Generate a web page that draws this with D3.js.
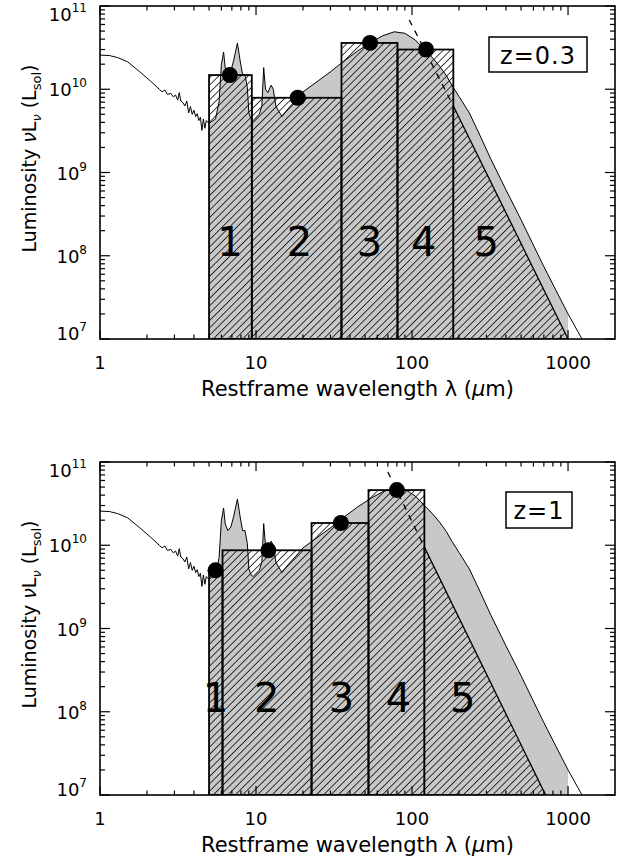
<!DOCTYPE html>
<html><head><meta charset="utf-8">
<script src="https://cdn.jsdelivr.net/npm/d3@7"></script>
<style>body{margin:0;background:#fff}</style>
</head><body>
<svg id="chart" width="626" height="860"></svg>
<script>
// ---------- DATA ----------
// Rest-frame SED template (wavelength in micron, nuL_nu in L_sol)
const sedWavelength = [1.0,1.15,1.3,1.5,1.8,2.1,2.4,2.5,2.6,2.7,2.85,2.95,3.05,3.15,3.22,3.3,3.4,3.5,3.6,3.7,3.8,3.9,4.0,4.1,4.2,4.3,4.4,4.5,4.6,4.7,4.8,5.0,5.2,5.5,5.8,6.0,6.2,6.35,6.6,6.9,7.2,7.6,7.9,8.2,8.5,8.8,9.0,9.3,9.6,10.0,10.5,10.9,11.2,11.5,11.9,12.5,12.9,13.4,14.0,14.7,16,18,20,25,30,35,45,55,65,77,90,105,120,135,150,166,181,200,233,270,320,400,500,700,1000,1300];
const sedLuminosity = [2.57e10,2.54e10,2.4e10,2.14e10,1.62e10,1.26e10,1.0e10,9.3e9,9.8e9,8.7e9,8.9e9,8.1e9,8.5e9,7.4e9,9.1e9,7.2e9,6.9e9,6.3e9,7.2e9,5.2e9,6.2e9,5.0e9,5.6e9,4.7e9,5.1e9,4.2e9,4.6e9,3.2e9,4.4e9,3.4e9,4.2e9,3.9e9,4.1e9,4.4e9,7.1e9,2.0e10,2.8e10,1.8e10,1.5e10,1.66e10,2.24e10,3.6e10,2.24e10,1.5e10,1.5e10,1.05e10,5.2e9,4.4e9,4.2e9,4.6e9,5.0e9,6.3e9,1.82e10,1.0e10,9.1e9,1.12e10,1.0e10,6.3e9,5.4e9,4.7e9,5.8e9,7.4e9,9.3e9,1.26e10,1.62e10,2.04e10,2.9e10,3.7e10,4.4e10,4.9e10,4.7e10,3.9e10,3.0e10,2.4e10,1.9e10,1.46e10,1.1e10,8.2e9,5.2e9,2.9e9,1.45e9,6.2e8,2.7e8,7.4e7,2.0e7,8.3e6];
const sedFillRange = [5, 1000];

const xTickValues = [1, 10, 100, 1000];
const xTickLabels = ["1", "10", "100", "1000"];
const yTickExponents = [7, 8, 9, 10, 11];
const bandNames = ["1", "2", "3", "4", "5"];

// Panel z=0.3
const zTopLabel = "z=0.3";
const zTopBandEdges = [5, 9.4, 35.3, 80.7, 184];
const zTopBandTops = [1.48e10, 7.9e9, 3.6e10, 3.0e10];
const zTopBand5 = [[184, 6.3e9], [1000, 1e7]];
const zTopDashed = [[96, 6.8e10], [184, 6.3e9]];
const zTopPointsX = [6.8, 18.5, 53.8, 123];
const zTopPointsY = [1.48e10, 7.9e9, 3.6e10, 3.0e10];
const zTopNameX = [6.8, 19, 53.4, 118.7, 299];

// Panel z=1
const zBotLabel = "z=1";
const zBotBandEdges = [5, 6.1, 22.7, 52.6, 120];
const zBotBandTops = [5.0e9, 8.7e9, 1.85e10, 4.6e10];
const zBotBand5 = [[120, 9.5e9], [718, 1e7]];
const zBotDashed = [[70, 7.6e10], [120, 9.5e9]];
const zBotPointsX = [5.5, 12, 35, 80];
const zBotPointsY = [5.0e9, 8.7e9, 1.85e10, 4.6e10];
const zBotNameX = [5.5, 11.7, 35.3, 81.9, 211];

// ---------- DRAW ----------
const svg = d3.select("#chart");
const FONT = "DejaVu Sans, sans-serif";
const defs = svg.append("defs");
const pat = defs.append("pattern").attr("id", "hatch")
  .attr("patternUnits", "userSpaceOnUse").attr("width", 5.2).attr("height", 5.2)
  .attr("patternTransform", "rotate(45)");
pat.append("line").attr("x1", 0).attr("y1", 0).attr("x2", 0).attr("y2", 5.2)
  .attr("stroke", "#000").attr("stroke-width", 1.5);

const L = 100, R = 615, H = 333;
const sed = sedWavelength.map((w, i) => ({w, l: sedLuminosity[i]}));

function panel(idx, top, cfg) {
  const x = d3.scaleLog().domain([1, 2000]).range([L, R]);
  const y = d3.scaleLog().domain([1e7, 1e11]).range([top + H, top]);
  const g = svg.append("g");
  const cid = "clip" + idx;
  defs.append("clipPath").attr("id", cid).append("rect")
    .attr("x", L).attr("y", top).attr("width", R - L).attr("height", H);
  const pg = g.append("g").attr("clip-path", `url(#${cid})`);

  // grey SED fill
  const fillPts = sed.filter(d => d.w >= sedFillRange[0] && d.w <= sedFillRange[1]);
  pg.append("path").datum(fillPts)
    .attr("d", d3.area().x(d => x(d.w)).y0(y(1e7)).y1(d => y(d.l)))
    .attr("fill", "#c8c8c8");
  // SED line
  pg.append("path").datum(sed)
    .attr("d", d3.line().x(d => x(d.w)).y(d => y(d.l)))
    .attr("fill", "none").attr("stroke", "#000").attr("stroke-width", 1);

  // hatched boxes
  const boxes = cfg.tops.map((t, i) => ({x0: cfg.edges[i], x1: cfg.edges[i + 1], t}));
  pg.selectAll(".box").data(boxes).enter().append("rect")
    .attr("x", d => x(d.x0)).attr("width", d => x(d.x1) - x(d.x0))
    .attr("y", d => y(d.t)).attr("height", d => y(1e7) - y(d.t))
    .attr("fill", "url(#hatch)").attr("stroke", "#000").attr("stroke-width", 1.8);
  // band 5
  const b5 = [[cfg.band5[0][0], 1e7], cfg.band5[0], cfg.band5[1]];
  pg.append("path").datum(b5)
    .attr("d", d3.line().x(d => x(d[0])).y(d => y(d[1])).curve(d3.curveLinearClosed))
    .attr("fill", "url(#hatch)").attr("stroke", "#000").attr("stroke-width", 1.3);
  // dashed extrapolation
  pg.append("path").datum(cfg.dashed)
    .attr("d", d3.line().x(d => x(d[0])).y(d => y(d[1])))
    .attr("fill", "none").attr("stroke", "#000").attr("stroke-width", 1.3)
    .attr("stroke-dasharray", "6,6");

  // points
  g.selectAll(".pt").data(cfg.px).enter().append("circle")
    .attr("cx", d => x(d)).attr("cy", (d, i) => y(cfg.py[i])).attr("r", 8)
    .attr("fill", "#000");

  // band names
  g.selectAll(".bn").data(bandNames).enter().append("text")
    .attr("x", (d, i) => x(cfg.nameX[i])).attr("y", y(1e8))
    .attr("text-anchor", "middle").attr("font-family", FONT).attr("font-size", 40)
    .text(d => d);

  // frame
  g.append("rect").attr("x", L).attr("y", top).attr("width", R - L).attr("height", H)
    .attr("fill", "none").attr("stroke", "#000").attr("stroke-width", 1.6);

  // ticks
  const xMinor = [];
  for (let e = 0; e <= 3; e++) for (let k = 2; k <= 9; k++) { const v = k * Math.pow(10, e); if (v < 2000) xMinor.push(v); }
  const tk = g.append("g").attr("stroke", "#000").attr("stroke-width", 1.2);
  xTickValues.forEach(v => {
    tk.append("line").attr("x1", x(v)).attr("x2", x(v)).attr("y1", top + H).attr("y2", top + H - 9);
    tk.append("line").attr("x1", x(v)).attr("x2", x(v)).attr("y1", top).attr("y2", top + 9);
  });
  xMinor.forEach(v => {
    tk.append("line").attr("x1", x(v)).attr("x2", x(v)).attr("y1", top + H).attr("y2", top + H - 4.5);
    tk.append("line").attr("x1", x(v)).attr("x2", x(v)).attr("y1", top).attr("y2", top + 4.5);
  });
  const yMinor = [];
  for (let e = 7; e <= 10; e++) for (let k = 2; k <= 9; k++) yMinor.push(k * Math.pow(10, e));
  yTickExponents.forEach(e => {
    const v = Math.pow(10, e);
    tk.append("line").attr("x1", L).attr("x2", L + 10).attr("y1", y(v)).attr("y2", y(v));
    tk.append("line").attr("x1", R).attr("x2", R - 10).attr("y1", y(v)).attr("y2", y(v));
  });
  yMinor.forEach(v => {
    tk.append("line").attr("x1", L).attr("x2", L + 5).attr("y1", y(v)).attr("y2", y(v));
    tk.append("line").attr("x1", R).attr("x2", R - 5).attr("y1", y(v)).attr("y2", y(v));
  });

  // x tick labels
  g.selectAll(".xl").data(xTickValues).enter().append("text")
    .attr("x", d => x(d)).attr("y", top + H + 30)
    .attr("text-anchor", "middle").attr("font-family", FONT).attr("font-size", 18)
    .text((d, i) => xTickLabels[i]);
  // y tick labels
  yTickExponents.forEach(e => {
    let cy = y(Math.pow(10, e));
    cy = Math.max(top + 8, Math.min(top + H - 6, cy));
    const t = g.append("text").attr("x", 87).attr("y", cy + 7)
      .attr("text-anchor", "end").attr("font-family", FONT).attr("font-size", 18);
    t.append("tspan").text("10");
    t.append("tspan").attr("font-size", 12).attr("dy", -9).text(String(e));
  });

  // axis titles
  const xt = g.append("text").attr("x", (L + R) / 2).attr("y", top + H + 57)
    .attr("text-anchor", "middle").attr("font-family", FONT).attr("font-size", 21);
  xt.append("tspan").text("Restframe wavelength λ (");
  xt.append("tspan").attr("font-style", "italic").text("μ");
  xt.append("tspan").text("m)");

  const yt = g.append("text")
    .attr("transform", `translate(36,${top + H / 2 - 14}) rotate(-90)`)
    .attr("text-anchor", "middle").attr("font-family", FONT).attr("font-size", 19);
  yt.append("tspan").text("Luminosity ");
  yt.append("tspan").attr("font-style", "italic").text("ν");
  yt.append("tspan").text("L");
  yt.append("tspan").attr("font-size", 13).attr("font-style", "italic").attr("dy", 5).text("ν");
  yt.append("tspan").attr("dy", -5).text(" (L");
  yt.append("tspan").attr("font-size", 13).attr("dy", 5).text("sol");
  yt.append("tspan").attr("dy", -5).text(")");

  // legend box
  const lb = cfg.legendBox;
  g.append("rect").attr("x", lb[0]).attr("y", top + lb[1]).attr("width", lb[2]).attr("height", lb[3])
    .attr("fill", "#fff").attr("stroke", "#000").attr("stroke-width", 1.5);
  g.append("text").attr("x", lb[0] + lb[2] / 2).attr("y", top + lb[1] + lb[3] / 2 + 9)
    .attr("text-anchor", "middle").attr("font-family", FONT).attr("font-size", 24)
    .attr("letter-spacing", 1).text(cfg.label);
}

panel(0, 6, {label: zTopLabel, edges: zTopBandEdges, tops: zTopBandTops, band5: zTopBand5,
  dashed: zTopDashed, px: zTopPointsX, py: zTopPointsY, nameX: zTopNameX, legendBox: [489, 31, 98, 35]});
panel(1, 462, {label: zBotLabel, edges: zBotBandEdges, tops: zBotBandTops, band5: zBotBand5,
  dashed: zBotDashed, px: zBotPointsX, py: zBotPointsY, nameX: zBotNameX, legendBox: [506, 30, 66, 36]});
</script>
</body></html>
